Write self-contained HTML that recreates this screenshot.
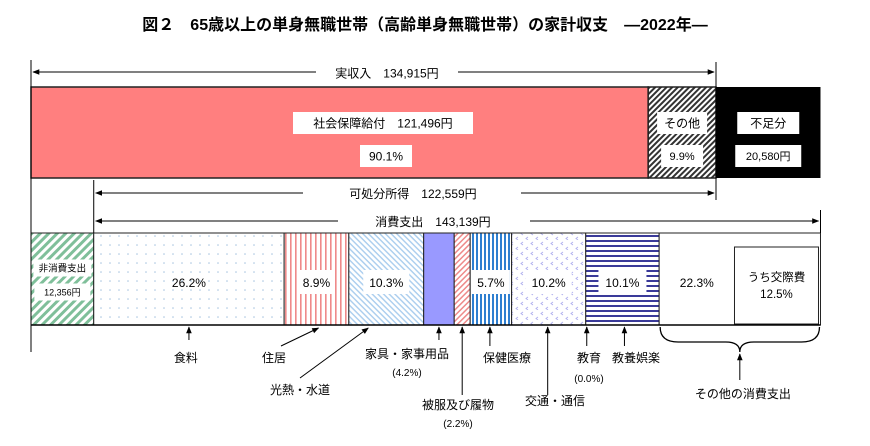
<!DOCTYPE html>
<html><head><meta charset="utf-8">
<style>
html,body{margin:0;padding:0;background:#fff;}
svg{display:block;font-family:"Liberation Sans","Noto Sans CJK JP",sans-serif;}
</style></head>
<body>
<svg id="c" width="870" height="446" viewBox="0 0 870 446">
<defs>
<marker id="ah" viewBox="0 0 10 10" refX="9" refY="5" markerWidth="7" markerHeight="7" orient="auto-start-reverse"><path d="M0,1 L10,5 L0,9 z" fill="#000"/></marker>
<pattern id="pGreen" width="6" height="6" patternUnits="userSpaceOnUse" patternTransform="rotate(-45)"><rect width="6" height="6" fill="#fff"/><rect width="6" height="3" fill="#7fbf9a"/></pattern>
<pattern id="pDots" width="9" height="9" patternUnits="userSpaceOnUse"><rect width="9" height="9" fill="#fff"/><circle cx="2" cy="2" r="0.8" fill="#a8c4e0"/></pattern>
<pattern id="pRedV" width="5" height="5" patternUnits="userSpaceOnUse"><rect width="5" height="5" fill="#fff"/><rect width="1.6" height="5" fill="#ef8a8a"/></pattern>
<pattern id="pBlueD" width="4" height="4" patternUnits="userSpaceOnUse" patternTransform="rotate(45)"><rect width="4" height="4" fill="#fff"/><rect width="4" height="1.4" fill="#a9cdee"/></pattern>
<pattern id="pPinkD" width="4" height="4" patternUnits="userSpaceOnUse" patternTransform="rotate(-45)"><rect width="4" height="4" fill="#fff"/><rect width="4" height="1.5" fill="#ee8a8a"/></pattern>
<pattern id="pBlueV" width="4" height="4" patternUnits="userSpaceOnUse"><rect width="4" height="4" fill="#fff"/><rect width="2" height="4" fill="#2f7fd0"/></pattern>
<pattern id="pPurpDots" width="10" height="10" patternUnits="userSpaceOnUse"><rect width="10" height="10" fill="#fff"/><path d="M3,2 l-2,1.5 l2,1.5" stroke="#b0b0ee" fill="none" stroke-width="0.9"/><path d="M8,7 l-2,1.5 l2,1.5" stroke="#b0b0ee" fill="none" stroke-width="0.9"/></pattern>
<pattern id="pNavyH" width="5" height="5" patternUnits="userSpaceOnUse"><rect width="5" height="5" fill="#fff"/><rect width="5" height="2" fill="#3a3a99"/></pattern>
<pattern id="pBlackD" width="4" height="4" patternUnits="userSpaceOnUse" patternTransform="rotate(-45)"><rect width="4" height="4" fill="#fff"/><rect width="4" height="2" fill="#333"/></pattern>
</defs>
<text x="425" y="30" text-anchor="middle" font-size="16" font-weight="bold">図２　65歳以上の単身無職世帯（高齢単身無職世帯）の家計収支　―2022年―</text>
<g id="g"></g>
</svg>
<script>
const incomeLabels = ["社会保障給付","その他"];
const incomeShares = [90.1, 9.9];
const incomeTotal = 134915;
const socialBenefit = 121496;
const deficit = 20580;
const disposable = 122559;
const consumption = 143139;
const nonConsumption = 12356;
const catLabels = ["食料","住居","光熱・水道","家具・家事用品","被服及び履物","保健医療","交通・通信","教育","教養娯楽","その他の消費支出"];
const catShares = [26.2, 8.9, 10.3, 4.2, 2.2, 5.7, 10.2, 0.0, 10.1, 22.3];
const socialExpShare = 12.5;

const NS="http://www.w3.org/2000/svg";
const g=document.getElementById('g');
const X0=31, incomeW=685;
const k=incomeW/incomeTotal;
const xs=v=>X0+v*k;
function el(t,a,p){const e=document.createElementNS(NS,t);for(const n in a)e.setAttribute(n,a[n]);(p||g).appendChild(e);return e;}
function txt(x,y,s,size,name,anchor){const t=el('text',{x:x,y:y,'font-size':size||12,'text-anchor':anchor||'middle'});t.textContent=s;


return t;}
function lbox(cx,cy,w,h,s,size,name){const r=el('rect',{x:cx-w/2,y:cy-h/2,width:w,height:h,fill:'#fff'});


txt(cx,cy+size*0.38,s,size,name);}
function line(x1,y1,x2,y2,name,m1,m2,w){const l=el('line',{x1,y1,x2,y2,stroke:'#000','stroke-width':w||1});if(m1)l.setAttribute('marker-start','url(#ah)');if(m2)l.setAttribute('marker-end','url(#ah)');


return l;}
const fmt=n=>n.toLocaleString('en-US');

// Top bar
const yT=87,hT=91;
const xInc=xs(incomeTotal);
const xSoc=X0+incomeW*incomeShares[0]/100;
let r=el('rect',{x:X0,y:yT,width:xSoc-X0,height:hT,fill:'#ff7f7f',stroke:'#222','stroke-width':1.5});


r=el('rect',{x:xSoc,y:yT,width:xInc-xSoc,height:hT,fill:'url(#pBlackD)',stroke:'#222','stroke-width':1.5});


const xDef=xs(incomeTotal+deficit);
r=el('rect',{x:xInc,y:yT,width:xDef-xInc,height:hT,fill:'#000'});


lbox(383,123,180,22,incomeLabels[0]+'　'+fmt(socialBenefit)+'円',12,'social-benefit-label');
lbox(386,156,52,22,incomeShares[0].toFixed(1)+'%',12,'social-benefit-share');
lbox((xSoc+xInc)/2,123,50,22,incomeLabels[1],12,'other-income-label');
lbox((xSoc+xInc)/2,156,42,22,incomeShares[1].toFixed(1)+'%',11,'other-income-share');
lbox((xInc+xDef)/2,123,62,22,'不足分',12,'deficit-label');
lbox((xInc+xDef)/2,156,66,22,fmt(deficit)+'円',11,'deficit-value');

// Bottom bar
const yB=233,hB=92;
const xNC=xs(nonConsumption);
r=el('rect',{x:X0,y:yB,width:xNC-X0,height:hB,fill:'url(#pGreen)',stroke:'#222'});


lbox((X0+xNC)/2,268,58,17,'非消費支出',9.5,'non-consumption-label');
lbox((X0+xNC)/2,292,56,17,fmt(nonConsumption)+'円',9,'non-consumption-value');
const consW=consumption*k;
const fills=['url(#pDots)','url(#pRedV)','url(#pBlueD)','#9999ff','url(#pPinkD)','url(#pBlueV)','url(#pPurpDots)','#fff','url(#pNavyH)','#fff'];
const showPct=[true,true,true,false,false,true,true,false,true,true];
const boxW=[0,36,46,0,0,38,46,0,48,0];
let cx=xNC; const mids=[];
catShares.forEach((s,i)=>{
  let w=consW*s/100;
  if(i===catShares.length-1) w=xNC+consW-cx;
  const rc=el('rect',{x:cx,y:yB,width:w,height:hB,fill:fills[i],stroke:'#222'});
  
  
  mids.push([cx,cx+w]);
  if(showPct[i]){
    let m=cx+w/2;
    if(i===catShares.length-1) m=(cx+cx+w-86)/2;
    if(boxW[i]){const b=el('rect',{x:m-boxW[i]/2,y:270,width:boxW[i],height:24,fill:'#fff'});
      
      }
    txt(m,287,s.toFixed(1)+'%',12,'share-'+(i+1));
  }
  cx+=w;
});
// inner social expense box
const last=mids[mids.length-1];
r=el('rect',{x:last[1]-86,y:247,width:84,height:77,fill:'#fff',stroke:'#222'});


txt(last[1]-44,281,'うち交際費',11.5,'social-expense-label');
txt(last[1]-44,298,socialExpShare.toFixed(1)+'%',11.5,'social-expense-share');

const xEnd=xNC+consW;
// Frame lines
line(X0,60,X0,352,'left-frame-line');
line(xNC,180,xNC,233,'disposable-start-line');
line(xInc,62,xInc,200,'income-end-line');
line(xEnd,210,xEnd,233,'consumption-end-line');
line(X0,325,xEnd,325,'bottom-baseline',false,false,1.5);

// Dimension arrows
line(X0+2,72,316,72,'income-arrow-left',true,false);
line(458,72,xInc-2,72,'income-arrow-right',false,true);
lbox(387,73,140,16,'実収入　'+fmt(incomeTotal)+'円',12,'income-label');
line(xNC+2,193,303,193,'disposable-arrow-left',true,false);
line(521,193,xInc-2,193,'disposable-arrow-right',false,true);
txt(413,198,'可処分所得　'+fmt(disposable)+'円',12,'disposable-label');
line(xNC+2,221,338,221,'consumption-arrow-left',true,false);
line(530,221,xEnd-2,221,'consumption-arrow-right',false,true);
txt(433,226,'消費支出　'+fmt(consumption)+'円',12,'consumption-label');

// Category labels with pointers
const mid=i=>(mids[i][0]+mids[i][1])/2;
function ptr(x1,y1,x2,y2,name){line(x1,y1,x2,y2,name,false,true);}
ptr(mid(0),340,mid(0),327,'food-pointer'); txt(mid(0)-3,362,catLabels[0],12,'food-label');
ptr(281,346,mid(1)+2,328,'housing-pointer'); txt(274,362,catLabels[1],12,'housing-label');
ptr(300,378,mid(2)-18,328,'utilities-pointer'); txt(300,394,catLabels[2],12,'utilities-label');
ptr(mid(3),340,mid(3),327,'furniture-pointer'); txt(407,358,catLabels[3],12,'furniture-label'); txt(407,376,'('+catShares[3].toFixed(1)+'%)',10,'furniture-share');
ptr(mid(4),395,mid(4),327,'clothing-pointer'); txt(458,409,catLabels[4],12,'clothing-label'); txt(458,427,'('+catShares[4].toFixed(1)+'%)',10,'clothing-share');
ptr(mid(5)-1,346,mid(5)-1,327,'medical-pointer'); txt(507,362,catLabels[5],12,'medical-label');
ptr(mid(6)-1,395,mid(6)-1,327,'transport-pointer'); txt(555,405,catLabels[6],12,'transport-label');
ptr(mids[7][0]+1,346,mids[7][0]+1,327,'education-pointer'); txt(589,362,catLabels[7],12,'education-label'); txt(589,382,'('+catShares[7].toFixed(1)+'%)',10,'education-share');
ptr(mid(8)+2,346,mid(8)+2,327,'culture-pointer'); txt(636,362,catLabels[8],12,'culture-label');
// brace
const bx1=last[0]+1,bx2=xEnd-1,bm=(bx1+bx2)/2;
const br=el('path',{d:`M${bx1},327 Q${bx1},342 ${bx1+18},342 L${bm-14},342 Q${bm},342 ${bm},352 Q${bm},342 ${bm+14},342 L${bx2-18},342 Q${bx2},342 ${bx2},327`,fill:'none',stroke:'#000','stroke-width':1.3});


ptr(bm,380,bm,354,'other-spending-pointer'); txt(bm+3,398,catLabels[9],12,'other-spending-label');
</script>
</body></html>
